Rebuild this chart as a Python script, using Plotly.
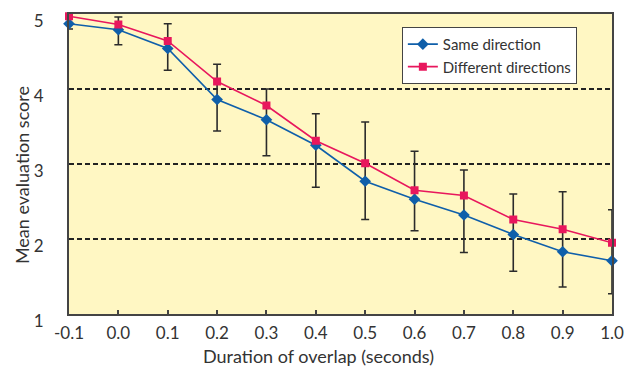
import plotly.graph_objects as go

overlap = [-0.1, 0.0, 0.1, 0.2, 0.3, 0.4, 0.5, 0.6, 0.7, 0.8, 0.9, 1.0]
same_dir = [4.87, 4.79, 4.54, 3.86, 3.59, 3.25, 2.77, 2.53, 2.32, 2.06, 1.83, 1.71]
diff_dir = [4.97, 4.86, 4.64, 4.10, 3.78, 3.31, 3.01, 2.65, 2.58, 2.26, 2.13, 1.95]
err_high = [4.94, 4.96, 4.87, 4.33, 4.00, 3.67, 3.56, 3.17, 2.92, 2.60, 2.63, 2.39]
err_low = [4.80, 4.59, 4.25, 3.44, 3.11, 2.69, 2.26, 2.11, 1.82, 1.57, 1.36, 1.27]
x_ticks = [-0.1, 0.0, 0.1, 0.2, 0.3, 0.4, 0.5, 0.6, 0.7, 0.8, 0.9, 1.0]
x_tick_text = ["-0.1", "0.0", "0.1", "0.2", "0.3", "0.4", "0.5", "0.6", "0.7", "0.8", "0.9", "1.0"]
y_ticks = [1, 2, 3, 4, 5]
x_title = "Duration of overlap (seconds)"
y_title = "Mean evaluation score"

BLUE = "#0F5FAA"
RED = "#E8175D"
FONT = "Lato"

fig = go.Figure()
fig.add_trace(go.Scatter(
    x=overlap, y=same_dir, name="Same direction", mode="lines+markers",
    line=dict(color=BLUE, width=1.6),
    marker=dict(symbol="diamond", size=9, color=BLUE),
    error_y=dict(type="data", symmetric=False,
                 array=[h - s for h, s in zip(err_high, same_dir)],
                 arrayminus=[s - l for s, l in zip(same_dir, err_low)],
                 color="#2b2b2b", thickness=1.6, width=4),
    cliponaxis=False,
))
fig.add_trace(go.Scatter(
    x=overlap, y=diff_dir, name="Different directions", mode="lines+markers",
    line=dict(color=RED, width=1.6),
    marker=dict(symbol="square", size=8, color=RED),
    cliponaxis=False,
))

fig.update_layout(
    width=631, height=366,
    margin=dict(l=69, r=19, t=14, b=52, autoexpand=False),
    paper_bgcolor="white",
    plot_bgcolor="#FFF7C3",
    font=dict(family=FONT, size=17, color="#333333"),
    showlegend=True,
    legend=dict(
        x=0.613, y=0.957, xanchor="left", yanchor="top",
        bgcolor="white", bordercolor="#444444", borderwidth=1,
        font=dict(family=FONT, size=15, color="#333333"),
        itemwidth=30, tracegroupgap=0,
    ),
    xaxis=dict(
        range=[-0.1, 1.0], tickmode="array", tickvals=x_ticks, ticktext=x_tick_text,
        showgrid=False, zeroline=False, automargin=False,
        showline=True, linecolor="#444444", linewidth=2, mirror=True,
        ticks="inside", ticklen=4, tickcolor="#444444", tickwidth=1.5,
        ticklabelstandoff=3,
    ),
    yaxis=dict(
        range=[1, 5], tickmode="array", tickvals=y_ticks,
        showgrid=True, gridcolor="#222222", gridwidth=1.6, griddash="5px,3px",
        zeroline=False, automargin=False,
        showline=True, linecolor="#444444", linewidth=2, mirror=True,
        ticks="", ticklabelstandoff=20, ticklabelshift=7,
        ticklabeloverflow="allow",
    ),
    annotations=[
        dict(text=x_title, xref="paper", yref="paper", x=0.4586, y=0,
             xanchor="center", yanchor="middle", yshift=-42, showarrow=False,
             font=dict(size=18)),
        dict(text=y_title, xref="paper", yref="paper", x=0, y=0.463,
             xanchor="center", yanchor="middle", xshift=-47, textangle=-90,
             showarrow=False, font=dict(size=18)),
    ],
)

fig.write_html("out.html")
